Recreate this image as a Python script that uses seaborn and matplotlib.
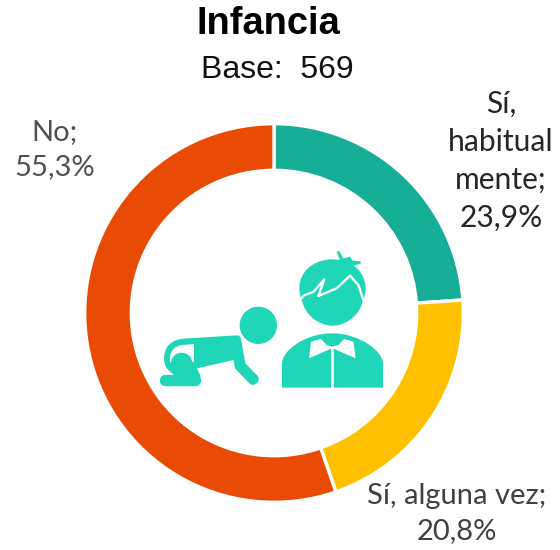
import matplotlib
matplotlib.use("Agg")
import matplotlib.pyplot as plt
from matplotlib.path import Path
from matplotlib.patches import PathPatch, Circle, Polygon
import seaborn as sns

categories = ["Sí,\nhabitual\nmente;", "Sí, alguna vez;", "No;"]
values = [23.9, 20.8, 55.3]
value_labels = ["23,9%", "20,8%", "55,3%"]
colors = ["#16AE96", "#FFC000", "#E94B04"]
title = "Infancia"
subtitle = "Base:  569"
ICON = "#1FD6B8"

sns.set_theme(style="white")
W, H = 560, 550
fig = plt.figure(figsize=(W / 100, H / 100), dpi=100, facecolor="white")

cx, cy, R, r = 274, 313, 189.3, 142.7
ax = fig.add_axes([(cx - R) / W, 1 - (cy + R) / H, 2 * R / W, 2 * R / H])
ax.pie(values, colors=sns.color_palette(colors), startangle=90, counterclock=False, radius=1,
       wedgeprops=dict(width=1 - r / R, edgecolor="white", linewidth=2.4))
ax.set_xlim(-1, 1)
ax.set_ylim(-1, 1)

ov = fig.add_axes([0, 0, 1, 1], zorder=3)
ov.set_xlim(0, W)
ov.set_ylim(H, 0)
ov.axis("off")
ov.patch.set_alpha(0)

ARIAL = "Liberation Sans"
LABEL = "Lato"
ov.text(268.5, 24.5, title, ha="center", va="center", family=ARIAL, weight="bold", fontsize=27.4, color="black")
ov.text(277, 70.5, subtitle, ha="center", va="center", family=ARIAL, fontsize=23, color="#111111")
ls = 1.43
ov.text(501, 161, categories[0] + "\n" + value_labels[0], ha="center", va="center", family=LABEL,
        fontsize=21.6, color="#262626", linespacing=ls)
ov.text(457, 514, categories[1] + "\n" + value_labels[1], ha="center", va="center", family=LABEL,
        fontsize=21, color="#404040", linespacing=ls)
ov.text(55, 150, categories[2] + "\n" + value_labels[2], ha="center", va="center", family=LABEL,
        fontsize=21, color="#505050", linespacing=ls)


# Icon: coordinates below are in "zoom" units of the picture's decoration
def z(p):
    return (140 + p[0] / 3, 230 + p[1] / 3)


def shape(cmds, color=ICON, zorder=4):
    verts, codes = [], []
    for c in cmds:
        if len(c) == 1:
            verts.append(z(c[0])); codes.append(Path.LINETO)
        else:
            for q in c:
                verts.append(z(q)); codes.append(Path.CURVE4)
    codes[0] = Path.MOVETO
    verts.append(verts[0]); codes.append(Path.CLOSEPOLY)
    ov.add_patch(PathPatch(Path(verts, codes), fc=color, ec="none", zorder=zorder))


def stroke(pts, lw, color=ICON, zorder=4, cap="round"):
    xs, ys = zip(*[z(p) for p in pts])
    ov.plot(xs, ys, color=color, lw=lw, solid_capstyle=cap, solid_joinstyle="round", zorder=zorder)


# baby
cxy = z((355, 286))
ov.add_patch(Circle(cxy, 56 / 3, fc=ICON, ec="none", zorder=4))
shape([[(290, 316)], [(130, 326)], [(85, 330), (72, 360), (72, 385)], [(72, 410), (85, 425), (105, 435)],
       [(175, 435)], [(160, 418)], [(280, 390)], [(285, 415)], [(330, 462)],
       [(345, 472), (365, 450), (352, 437)], [(316, 400)], [(304, 330)], [(302, 318), (295, 316), (290, 316)]])
shape([[(162, 342)], [(125, 345)], [(85, 352), (80, 395), (104, 415)], [(110, 380)], [(162, 400)]], color="white", zorder=5)
ov.add_patch(Circle(z((125, 400)), 32 / 3, fc=ICON, ec="none", zorder=6))
shape([[(100, 415)], [(160, 395)], [(183, 440)], [(100, 440)]], zorder=6)
stroke([(75, 450), (166, 450)], 8.2, zorder=6)

# boy
shape([[(483, 205)], [(462, 140), (510, 88), (578, 88)], [(645, 88), (692, 140), (672, 205)],
       [(665, 225)], [(650, 265), (610, 287), (577, 287)], [(545, 287), (505, 265), (490, 225)]])
stroke([(478, 212), (492, 196), (520, 186), (553, 148), (535, 198), (590, 175), (630, 137), (655, 165), (672, 215)],
       1.7, color="white", zorder=5, cap="butt")
shape([[(590, 65)], [(598, 63)], [(610, 85)], [(630, 80)], [(638, 92)], [(662, 94)], [(662, 101)], [(630, 110)], [(605, 105)]])
shape([[(426, 473)], [(426, 400)], [(426, 365), (490, 310), (577, 310)], [(660, 310), (729, 365), (729, 400)], [(729, 473)]])
ov.add_patch(Polygon([z(p) for p in [(513, 335), (543, 327), (560, 345), (577, 350), (595, 345), (612, 327), (640, 335),
                                     (647, 385), (583, 357), (571, 357), (507, 385)]],
                     fc="white", ec="none", zorder=5))
stroke([(577, 350), (577, 473)], 1.9, color="white", zorder=5, cap="butt")

fig.savefig("out.png", dpi=100)
